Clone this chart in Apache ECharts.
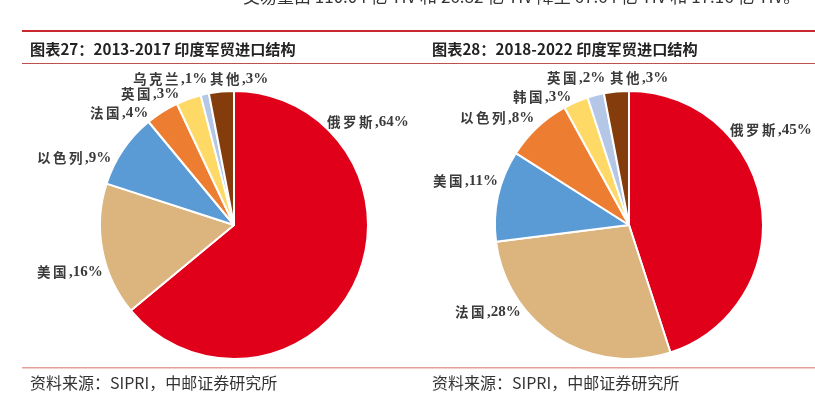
<!DOCTYPE html>
<html><head><meta charset="utf-8">
<script src="https://cdn.jsdelivr.net/npm/echarts@6/dist/echarts.min.js"></script>
<style>html,body{margin:0;padding:0;background:#fff}#c{width:815px;height:393px}</style>
</head><body><div id="c"></div>
<script>
// Data
const leftCats = ['俄罗斯','美国','以色列','法国','英国','乌克兰','其他'];
const leftVals = [64, 16, 9, 4, 3, 1, 3];
const rightCats = ['俄罗斯','法国','美国','以色列','韩国','英国','其他'];
const rightVals = [45, 28, 11, 8, 3, 2, 3];
const leftTitle = '图表27：2013-2017 印度军贸进口结构';
const rightTitle = '图表28：2018-2022 印度军贸进口结构';
const sourceText = '资料来源：SIPRI，中邮证券研究所';
const topText = '交易量由 110.04 亿 TIV 和 26.82 亿 TIV 降至 67.64 亿 TIV 和 17.16 亿 TIV。';

const colors = ['#E1001A','#DBB47E','#5B9BD5','#ED7D31','#FFD966','#B4C7E7','#843C0C'];
const centers = [[234,225],[629,225]];
const R = 134;
// label anchors relative to pie centre [dx, dy] (left edge, vertical middle)
const labelOffsets = [
  [[93,-103],[-197,47],[-197,-67],[-144,-112],[-113,-131],[-101,-146],[-24,-146]],
  [[101,-95],[-174,87],[-196,-44],[-169,-107],[-116,-128],[-82,-147],[-19,-147]]
];

const chart = echarts.init(document.getElementById('c'));
function mk(cats, vals){ return cats.map((c,i)=>({name:c, value:vals[i], itemStyle:{color:colors[i]}})); }
const labelFont = '"Liberation Serif","Noto Sans CJK SC",serif';
const labelStyle = {
  show:true, position:'outside', overflow:'none',
  formatter: p => p.name.split('').map(ch => '{c|' + ch + '}').join('') + '{n|,' + p.value + '%}',
  fontFamily:labelFont, fontWeight:'bold', fontSize:14, color:'#3A3A3A',
  rich:{
    c:{fontFamily:'"Noto Sans CJK SC",sans-serif', fontWeight:'bold', fontSize:13.5, color:'#3A3A3A', padding:[0,2.5,0,0]},
    n:{fontFamily:labelFont, fontWeight:'bold', fontSize:15, color:'#3A3A3A'}
  }
};
function pie(idx, cats, vals){
  return {
    type:'pie', center:centers[idx], radius:[0,R], startAngle:90, clockwise:true,
    animation:false, silent:true, data:mk(cats, vals),
    itemStyle:{borderColor:'#fff', borderWidth:2},
    label: labelStyle, labelLine:{show:false},
    labelLayout: function(p){
      const o = labelOffsets[idx][p.dataIndex];
      return {x: centers[idx][0] + o[0], y: centers[idx][1] + o[1], align:'left', verticalAlign:'middle', hideOverlap:false};
    }
  };
}
const titleFont = '"Noto Sans CJK SC",sans-serif';
chart.setOption({
  animation:false,
  series:[pie(0,leftCats,leftVals), pie(1,rightCats,rightVals)],
  graphic:[
    {type:'text', left:243, top:-12, style:{text:topText, font:'17px "Noto Sans CJK SC"', fill:'#333'}},
    {type:'rect', shape:{x:22,y:30,width:793,height:2}, style:{fill:'#C8282E'}},
    {type:'rect', shape:{x:22,y:63,width:793,height:1}, style:{fill:'#C0504D'}},
    {type:'rect', shape:{x:22,y:367,width:793,height:1.5}, style:{fill:'#E8A09A'}},
    {type:'text', x:30, y:49, style:{text:leftTitle, font:'bold 15.2px '+titleFont, fill:'#222', textVerticalAlign:'middle'}},
    {type:'text', x:432, y:49, style:{text:rightTitle, font:'bold 15.2px '+titleFont, fill:'#222', textVerticalAlign:'middle'}},
    {type:'text', x:30, y:383, style:{text:sourceText, font:'16px '+titleFont, fill:'#333', textVerticalAlign:'middle'}},
    {type:'text', x:432, y:383, style:{text:sourceText, font:'16px '+titleFont, fill:'#333', textVerticalAlign:'middle'}}
  ]
});
</script></body></html>
